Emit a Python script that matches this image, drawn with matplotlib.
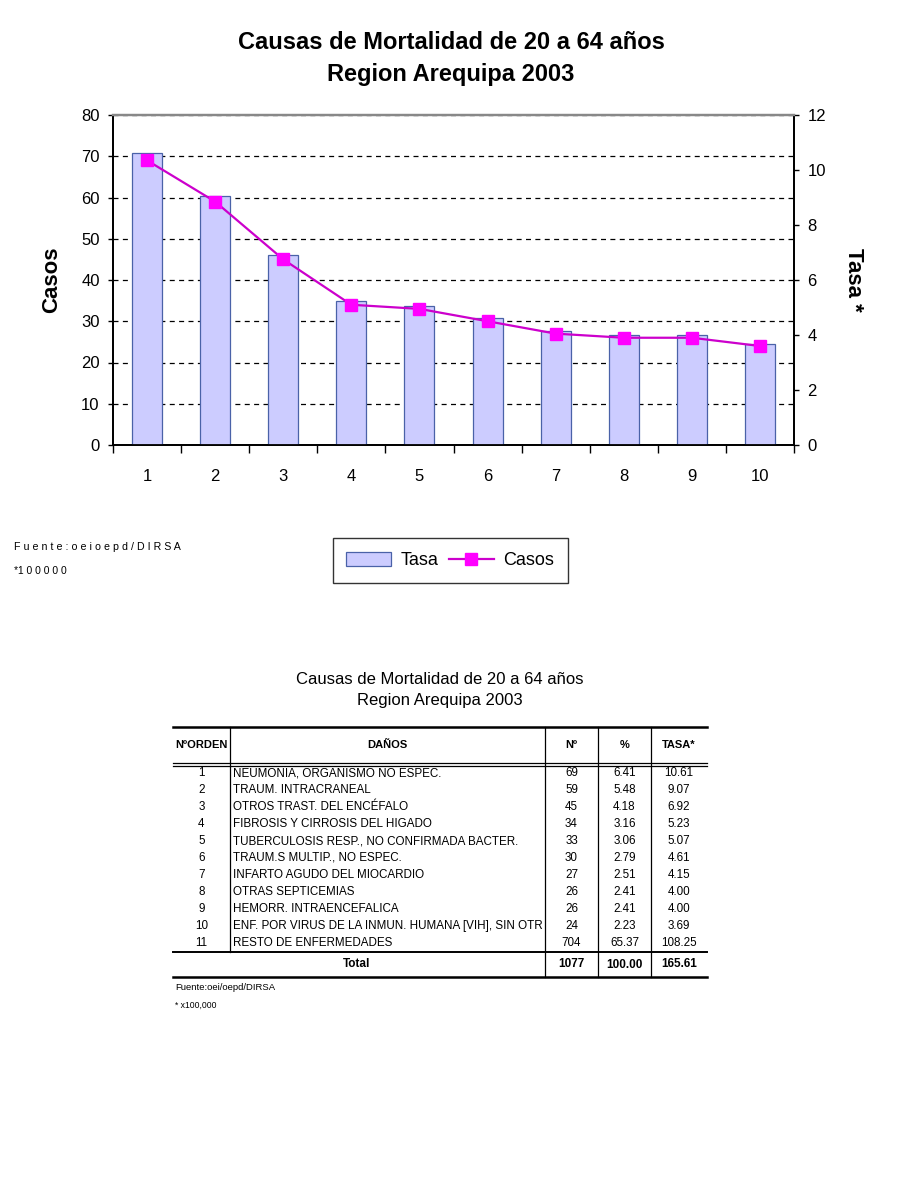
import matplotlib
matplotlib.use("Agg")
import matplotlib.pyplot as plt
from matplotlib.lines import Line2D
from matplotlib.transforms import Bbox, TransformedBbox

# ---------------- data ----------------
orden = [1, 2, 3, 4, 5, 6, 7, 8, 9, 10]
tasa = [10.61, 9.07, 6.92, 5.23, 5.07, 4.61, 4.15, 4.00, 4.00, 3.69]
casos = [69, 59, 45, 34, 33, 30, 27, 26, 26, 24]

left_ticks = [0, 10, 20, 30, 40, 50, 60, 70, 80]
right_ticks = [0, 2, 4, 6, 8, 10, 12]

tbl_orden = ["1", "2", "3", "4", "5", "6", "7", "8", "9", "10", "11"]
tbl_danos = [
    "NEUMONIA, ORGANISMO NO ESPEC.",
    "TRAUM. INTRACRANEAL",
    "OTROS TRAST. DEL ENCÉFALO",
    "FIBROSIS Y CIRROSIS DEL HIGADO",
    "TUBERCULOSIS RESP., NO CONFIRMADA BACTER.",
    "TRAUM.S MULTIP., NO ESPEC.",
    "INFARTO AGUDO DEL MIOCARDIO",
    "OTRAS SEPTICEMIAS",
    "HEMORR. INTRAENCEFALICA",
    "ENF. POR VIRUS DE LA INMUN. HUMANA [VIH], SIN OTR",
    "RESTO DE ENFERMEDADES",
]
tbl_n = ["69", "59", "45", "34", "33", "30", "27", "26", "26", "24", "704"]
tbl_pct = ["6.41", "5.48", "4.18", "3.16", "3.06", "2.79", "2.51", "2.41", "2.41", "2.23", "65.37"]
tbl_tasa = ["10.61", "9.07", "6.92", "5.23", "5.07", "4.61", "4.15", "4.00", "4.00", "3.69", "108.25"]
tbl_total = ["Total", "1077", "100.00", "165.61"]
tbl_header = ["NºORDEN", "DAÑOS", "Nº", "%", "TASA*"]

title1 = "Causas de Mortalidad de 20 a 64 años"
title2 = "Region Arequipa 2003"

# ---------------- fonts ----------------
plt.rcParams['font.family'] = ['Liberation Sans', 'DejaVu Sans']

W, H = 900, 1200
fig = plt.figure(figsize=(9, 12), dpi=100)
fig.patch.set_facecolor('white')

def fx(px):
    return px / W

def fy(py):
    return 1 - py / H

# overlay axes for free text / table (pixel coordinates)
ov = fig.add_axes([0, 0, 1, 1])
ov.set_xlim(0, W)
ov.set_ylim(H, 0)
ov.axis('off')
ov.patch.set_visible(False)

# ---------------- chart ----------------
L, R, T, B = 113, 794, 115, 445
rect = [fx(L), fy(B), fx(R - L), (B - T) / H]

ax = fig.add_axes(rect)
ax.set_xlim(0.5, 10.5)
ax.set_ylim(0, 80)
ax.set_yticks(left_ticks)
ax.yaxis.grid(True, linestyle=(0, (4, 3.5)), color='black', linewidth=0.9)
ax.set_axisbelow(True)
ax.set_xticks(orden)
ax.set_xticks([x + 0.5 for x in [0] + orden], minor=True)
ax.tick_params(axis='x', which='major', length=0, pad=17, labelsize=12)
ax.tick_params(axis='x', which='minor', length=5.5, width=1, direction='out', color='black')
ax.tick_params(axis='y', length=3.6, width=1, pad=6, labelsize=12, direction='out')
for s in ['left', 'bottom', 'right']:
    ax.spines[s].set_color('black')
    ax.spines[s].set_linewidth(1.3)
ax.spines['top'].set_color('#888888')
ax.spines['top'].set_linewidth(1.6)
ax.set_ylabel('Casos', fontsize=16, fontweight='bold', labelpad=0)
ax.yaxis.label.set_va('center')
ax.yaxis.set_label_coords((52 - L) / (R - L), 0.5)

ax2 = ax.twinx()
ax2.set_ylim(0, 12)
ax2.set_yticks(right_ticks)
ax2.tick_params(axis='y', length=3.6, width=1, pad=6, labelsize=12, direction='out')
for s in ['left', 'bottom', 'right']:
    ax2.spines[s].set_color('black')
    ax2.spines[s].set_linewidth(1.3)
ax2.spines['top'].set_color('#888888')
ax2.spines['top'].set_linewidth(1.6)
bars = ax2.bar(orden, tasa, width=0.44, color='#CCCCFF', edgecolor='#4A62A8', linewidth=0.9,
               label='Tasa')
ax2.set_ylabel('Tasa *', fontsize=16, fontweight='bold', rotation=270, labelpad=0)
ax2.yaxis.label.set_va('center')
ax2.yaxis.set_label_coords((853 - L) / (R - L), 0.5)

ax3 = fig.add_axes(rect, sharex=ax, sharey=ax)
ax3.axis('off')
ax3.patch.set_visible(False)
line, = ax3.plot(orden, casos, color='#CC00CC', linewidth=1.6, marker='s', markersize=8.5,
                 markerfacecolor='#FF00FF', markeredgecolor='#FF00FF', label='Casos')

# titles
ov.text(451, 49, title1, ha='center', va='baseline', fontsize=17, fontweight='bold')
ov.text(451, 81, title2, ha='center', va='baseline', fontsize=17, fontweight='bold')

# legend
leg = fig.legend(handles=[bars, line], labels=['Tasa', 'Casos'], loc='center',
                 bbox_to_anchor=(fx(450), fy(560.5)), ncol=2, fontsize=13,
                 frameon=True, fancybox=False, edgecolor='black', borderpad=0.75,
                 handlelength=2.5, handleheight=0.8, columnspacing=0.6, handletextpad=0.5,
                 borderaxespad=0)
leg.get_frame().set_linewidth(1.0)

# source notes
ov.text(14, 547, "F u e n t e : o e i o e p d / D I R S A", ha='left', va='center', fontsize=7.7)
ov.text(14, 571, "*1 0 0 0 0 0", ha='left', va='center', fontsize=7.4)

# ---------------- table ----------------
ov.text(440, 684, title1, ha='center', va='baseline', fontsize=12)
ov.text(440, 705, title2, ha='center', va='baseline', fontsize=12)

TL, TR = 173, 707
col_x = [230, 545, 598, 651]
centers = [201.5, 387.5, 571.5, 624.5, 679]
y_top, y_hdr_bot1, y_hdr_bot2 = 727, 763, 766
y_tot_top, y_bot = 952, 977

ov.add_line(Line2D([TL, TR], [y_top, y_top], color='black', lw=1.8))
ov.add_line(Line2D([TL, TR], [y_hdr_bot1, y_hdr_bot1], color='black', lw=0.9))
ov.add_line(Line2D([TL, TR], [y_hdr_bot2, y_hdr_bot2], color='black', lw=0.9))
ov.add_line(Line2D([TL, TR], [y_tot_top, y_tot_top], color='black', lw=1.4))
ov.add_line(Line2D([TL, TR], [y_bot, y_bot], color='black', lw=1.8))
ov.add_line(Line2D([col_x[0], col_x[0]], [y_top, y_tot_top], color='black', lw=0.9))
for cx in col_x[1:]:
    ov.add_line(Line2D([cx, cx], [y_top, y_bot], color='black', lw=0.9))

for i, h in enumerate(tbl_header):
    ov.text(centers[i], 745, h, ha='center', va='center', fontsize=8, fontweight='bold')

clipbox = TransformedBbox(Bbox([[col_x[0], 0], [col_x[1] - 1.5, H]]), ov.transData)
for i in range(len(tbl_orden)):
    y = 773 + 17 * i
    ov.text(centers[0], y, tbl_orden[i], ha='center', va='center', fontsize=8.4)
    t = ov.text(233, y, tbl_danos[i], ha='left', va='center', fontsize=8.4)
    t.set_clip_on(True)
    t.set_clip_box(clipbox)
    t.set_clip_path(None)
    ov.text(centers[2], y, tbl_n[i], ha='center', va='center', fontsize=8.4)
    ov.text(centers[3], y, tbl_pct[i], ha='center', va='center', fontsize=8.4)
    ov.text(centers[4], y, tbl_tasa[i], ha='center', va='center', fontsize=8.4)

ov.text(357, 964, tbl_total[0], ha='center', va='center', fontsize=8.5, fontweight='bold')
ov.text(centers[2], 964, tbl_total[1], ha='center', va='center', fontsize=8.5, fontweight='bold')
ov.text(centers[3], 965, tbl_total[2], ha='center', va='center', fontsize=8.5, fontweight='bold')
ov.text(centers[4], 964, tbl_total[3], ha='center', va='center', fontsize=8.5, fontweight='bold')

ov.text(175, 987, "Fuente:oei/oepd/DIRSA", ha='left', va='center', fontsize=6.8)
ov.text(175, 1005, "* x100,000", ha='left', va='center', fontsize=6.2)

fig.savefig('out.png', dpi=100, facecolor='white')
